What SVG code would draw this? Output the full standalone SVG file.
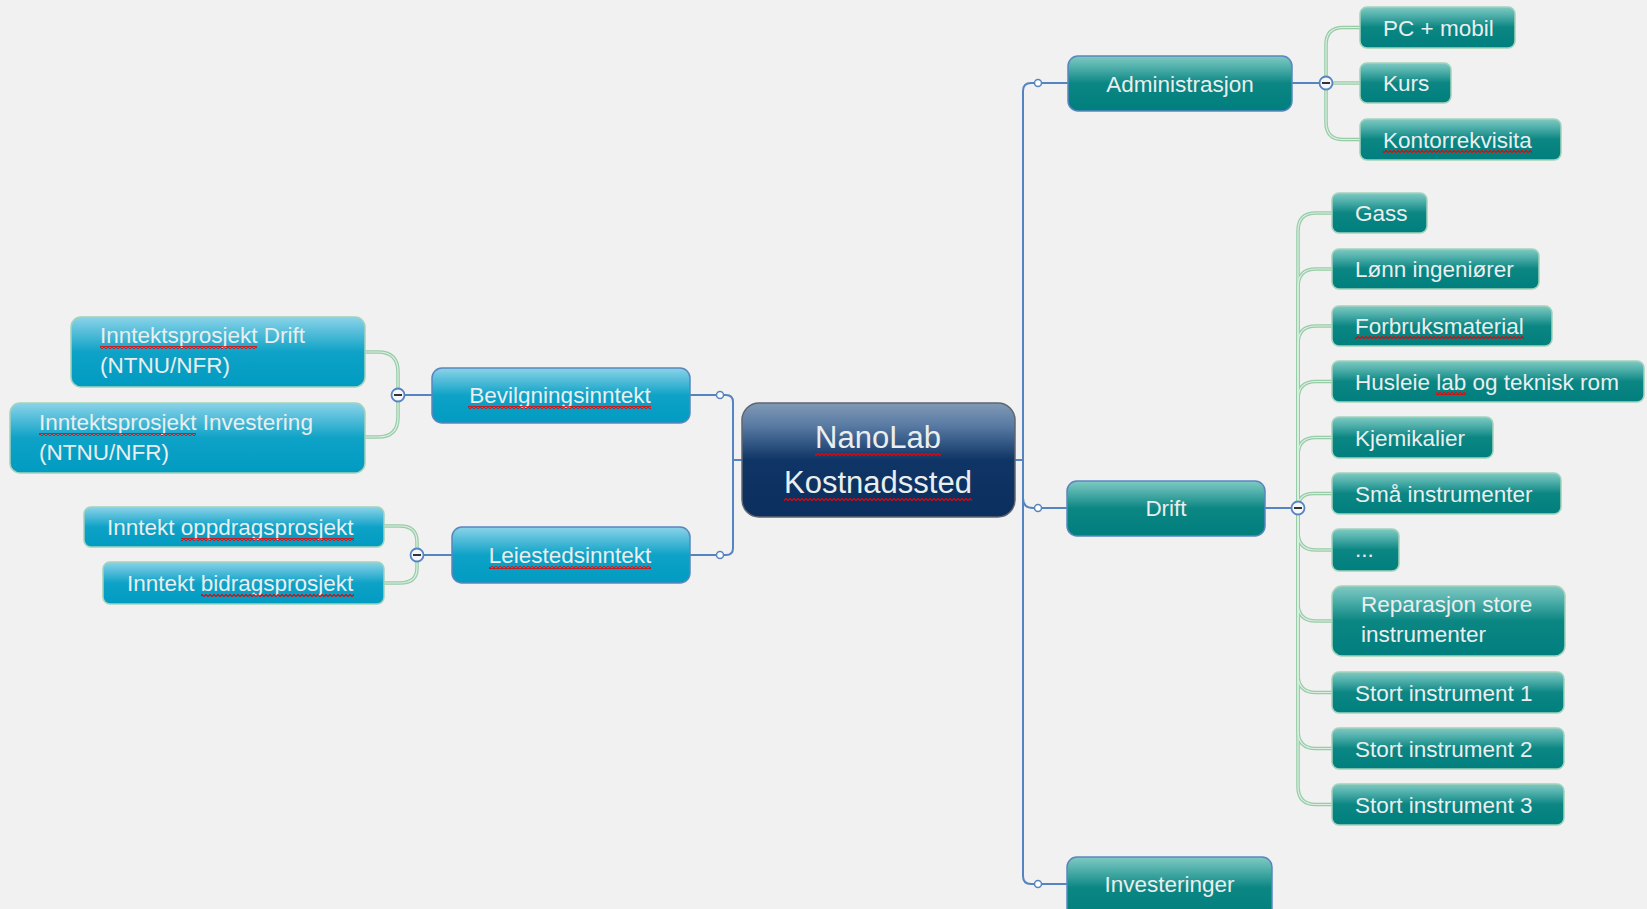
<svg xmlns="http://www.w3.org/2000/svg" xmlns:xlink="http://www.w3.org/1999/xlink" width="1647" height="909" viewBox="0 0 1647 909">
<style>
.t{font-family:"Liberation Sans",Arial,sans-serif;font-size:22.5px;fill:#eaeeee}
.tc{font-family:"Liberation Sans",Arial,sans-serif;font-size:31px;fill:#eaeeee;text-anchor:middle}
.m{text-anchor:middle}
.teal{fill:url(#gTeal);stroke:#a3d2bb;stroke-width:1.5}
.tealM{fill:url(#gTeal);stroke:#5a86bf;stroke-width:1.5}
.cyan{fill:url(#gCyan);stroke:#a3d2bb;stroke-width:1.5}
.cyanM{fill:url(#gCyan);stroke:#5a86bf;stroke-width:1.5}
.blue{fill:none;stroke:#5584c0;stroke-width:2}
.gOut{fill:none;stroke:#98cca8;stroke-width:3.6}
.gIn{fill:none;stroke:#dcf0e2;stroke-width:1.2}
.dot{fill:#fff;stroke:#5584c0;stroke-width:1.5}
.col{fill:#f4f6fa;stroke:#5584c0;stroke-width:1.8}
.minus{stroke:#333;stroke-width:2}
.wv{fill:url(#wavy)}
</style>
<defs>
<linearGradient id="gTeal" x1="0" y1="0" x2="0" y2="1">
<stop offset="0" stop-color="#80c9c3"/>
<stop offset="0.18" stop-color="#56b3ae"/>
<stop offset="0.5" stop-color="#0b8683"/>
<stop offset="1" stop-color="#007f7e"/>
</linearGradient>
<linearGradient id="gCyan" x1="0" y1="0" x2="0" y2="1">
<stop offset="0" stop-color="#8ad4e8"/>
<stop offset="0.18" stop-color="#5ec1dc"/>
<stop offset="0.5" stop-color="#0ea2c7"/>
<stop offset="1" stop-color="#019bc1"/>
</linearGradient>
<linearGradient id="gNavy" x1="0" y1="0" x2="0" y2="1">
<stop offset="0" stop-color="#8199b6"/>
<stop offset="0.2" stop-color="#587aa3"/>
<stop offset="0.5" stop-color="#0f3566"/>
<stop offset="1" stop-color="#0b2f5e"/>
</linearGradient>
<pattern id="wavy" width="4" height="3" patternUnits="userSpaceOnUse">
<path d="M-1,2.5 L0,2.5 L2,0.5 L4,2.5 L5,2.5" fill="none" stroke="#f00000" stroke-width="1.2"/>
</pattern>
<g id="greenPaths">
<path d="M398,395 V372 Q398,352 378,352 H365"/>
<path d="M398,395 V417 Q398,437 378,437 H365"/>
<path d="M417,555 V542 Q417,526 400,526 H384"/>
<path d="M417,555 V568 Q417,583 400,583 H384"/>
<path d="M1326,83 V45 Q1326,27.5 1343,27.5 H1360"/>
<path d="M1326,83 H1360"/>
<path d="M1326,83 V122 Q1326,139.5 1343,139.5 H1360"/>
<path d="M1298,508 V231 Q1298,213 1316,213 H1332"/>
<path d="M1298,508 V287 Q1298,269 1316,269 H1332"/>
<path d="M1298,508 V344 Q1298,326 1316,326 H1332"/>
<path d="M1298,508 V399.5 Q1298,381.5 1316,381.5 H1332"/>
<path d="M1298,508 V455.5 Q1298,437.5 1316,437.5 H1332"/>
<path d="M1298,508 Q1298,493.5 1314,493.5 H1332"/>
<path d="M1298,508 V532 Q1298,550 1316,550 H1332"/>
<path d="M1298,508 V603 Q1298,621 1316,621 H1332"/>
<path d="M1298,508 V674.5 Q1298,692.5 1316,692.5 H1332"/>
<path d="M1298,508 V730.5 Q1298,748.5 1316,748.5 H1332"/>
<path d="M1298,508 V786.5 Q1298,804.5 1316,804.5 H1332"/>
</g>
</defs>
<rect x="0" y="0" width="1647" height="909" fill="#f1f1f1"/>

<g id="connectors">
<use xlink:href="#greenPaths" class="gOut"/>
<use xlink:href="#greenPaths" class="gIn"/>
<path class="blue" d="M742,460 H733"/>
<path class="blue" d="M720,395 H726 Q733,395 733,402 V548 Q733,555 726,555 H720"/>
<path class="blue" d="M690,395 H720"/>
<path class="blue" d="M690,555 H720"/>
<path class="blue" d="M432,395 H398"/>
<path class="blue" d="M452,555 H417"/>
<path class="blue" d="M1015,460 H1023"/>
<path class="blue" d="M1038,83 H1031 Q1023,83 1023,91 V876 Q1023,884 1031,884 H1038"/>
<path class="blue" d="M1023,498 Q1023,508 1033,508 H1038"/>
<path class="blue" d="M1038,83 H1068"/>
<path class="blue" d="M1038,508 H1067"/>
<path class="blue" d="M1038,884 H1067"/>
<path class="blue" d="M1292,83 H1326"/>
<path class="blue" d="M1265,508 H1298"/>
<circle class="dot" cx="720" cy="395" r="3.5"/>
<circle class="dot" cx="720" cy="555" r="3.5"/>
<circle class="dot" cx="1038" cy="83" r="3.5"/>
<circle class="dot" cx="1038" cy="508" r="3.5"/>
<circle class="dot" cx="1038" cy="884" r="3.5"/>
<circle class="col" cx="398" cy="395" r="6.5"/><path class="minus" d="M394,395 H402"/>
<circle class="col" cx="417" cy="555" r="6.5"/><path class="minus" d="M413,555 H421"/>
<circle class="col" cx="1326" cy="83" r="6.5"/><path class="minus" d="M1322,83 H1330"/>
<circle class="col" cx="1298" cy="508" r="6.5"/><path class="minus" d="M1294,508 H1302"/>
</g>

<g id="n-central">
<rect x="742" y="403" width="273" height="114" rx="17" fill="url(#gNavy)" stroke="#5f6670" stroke-width="1.5"/>
<text class="tc" x="878" y="448">NanoLab</text>
<text class="tc" x="878" y="493">Kostnadssted</text>
<rect class="wv" x="815" y="453" width="126" height="3"/>
<rect class="wv" x="784" y="498" width="188" height="3"/>
</g>

<g id="n-bevilgning">
<rect class="cyanM" x="432" y="368" width="258" height="55" rx="10"/>
<text class="t m" x="560" y="403">Bevilgningsinntekt</text>
<rect class="wv" x="468" y="406" width="183" height="3"/>
</g>
<g id="n-inntekt-drift">
<rect class="cyan" x="71" y="317" width="294" height="70" rx="10"/>
<text class="t" x="100" y="343">Inntektsprosjekt Drift</text>
<text class="t" x="100" y="373">(NTNU/NFR)</text>
<rect class="wv" x="100" y="346" width="157" height="3"/>
</g>
<g id="n-inntekt-inv">
<rect class="cyan" x="10" y="403" width="355" height="70" rx="10"/>
<text class="t" x="39" y="430">Inntektsprosjekt Investering</text>
<text class="t" x="39" y="460">(NTNU/NFR)</text>
<rect class="wv" x="39" y="433" width="157" height="3"/>
</g>
<g id="n-leiested">
<rect class="cyanM" x="452" y="527" width="238" height="56" rx="10"/>
<text class="t m" x="570" y="563">Leiestedsinntekt</text>
<rect class="wv" x="489" y="566" width="162" height="3"/>
</g>
<g id="n-oppdrag">
<rect class="cyan" x="84" y="507" width="300" height="40" rx="7"/>
<text class="t" x="107" y="535">Inntekt oppdragsprosjekt</text>
<rect class="wv" x="181" y="538" width="173" height="3"/>
</g>
<g id="n-bidrag">
<rect class="cyan" x="103" y="562" width="281" height="42" rx="7"/>
<text class="t" x="127" y="591">Inntekt bidragsprosjekt</text>
<rect class="wv" x="201" y="594" width="153" height="3"/>
</g>

<g id="n-admin">
<rect class="tealM" x="1068" y="56" width="224" height="55" rx="10"/>
<text class="t m" x="1180" y="91.5">Administrasjon</text>
</g>
<g id="n-pc">
<rect class="teal" x="1360" y="7" width="155" height="41" rx="7"/>
<text class="t" x="1383" y="35.5">PC + mobil</text>
</g>
<g id="n-kurs">
<rect class="teal" x="1360" y="63" width="91" height="40" rx="7"/>
<text class="t" x="1383" y="91">Kurs</text>
</g>
<g id="n-kontor">
<rect class="teal" x="1360" y="119" width="201" height="41" rx="7"/>
<text class="t" x="1383" y="147.5">Kontorrekvisita</text>
<rect class="wv" x="1383" y="150" width="149" height="3"/>
</g>

<g id="n-drift">
<rect class="tealM" x="1067" y="481" width="198" height="55" rx="10"/>
<text class="t m" x="1166" y="516">Drift</text>
</g>
<g id="n-gass">
<rect class="teal" x="1332" y="193" width="95" height="40" rx="7"/>
<text class="t" x="1355" y="221">Gass</text>
</g>
<g id="n-lonn">
<rect class="teal" x="1332" y="249" width="207" height="40" rx="7"/>
<text class="t" x="1355" y="277">Lønn ingeniører</text>
</g>
<g id="n-forbruk">
<rect class="teal" x="1332" y="306" width="220" height="40" rx="7"/>
<text class="t" x="1355" y="334">Forbruksmaterial</text>
<rect class="wv" x="1355" y="336" width="169" height="3"/>
</g>
<g id="n-husleie">
<rect class="teal" x="1332" y="361" width="312" height="41" rx="7"/>
<text class="t" x="1355" y="389.5">Husleie lab og teknisk rom</text>
<rect class="wv" x="1436" y="392" width="30" height="3"/>
</g>
<g id="n-kjemi">
<rect class="teal" x="1332" y="417" width="161" height="41" rx="7"/>
<text class="t" x="1355" y="445.5">Kjemikalier</text>
</g>
<g id="n-sma">
<rect class="teal" x="1332" y="473" width="229" height="41" rx="7"/>
<text class="t" x="1355" y="501.5">Små instrumenter</text>
</g>
<g id="n-dots">
<rect class="teal" x="1332" y="529" width="67" height="42" rx="7"/>
<text class="t" x="1355" y="557">...</text>
</g>
<g id="n-reparasjon">
<rect class="teal" x="1332" y="586" width="233" height="70" rx="10"/>
<text class="t" x="1361" y="612">Reparasjon store</text>
<text class="t" x="1361" y="642">instrumenter</text>
</g>
<g id="n-stort1">
<rect class="teal" x="1332" y="672" width="232" height="41" rx="7"/>
<text class="t" x="1355" y="700.5">Stort instrument 1</text>
</g>
<g id="n-stort2">
<rect class="teal" x="1332" y="728" width="232" height="41" rx="7"/>
<text class="t" x="1355" y="756.5">Stort instrument 2</text>
</g>
<g id="n-stort3">
<rect class="teal" x="1332" y="784" width="232" height="41" rx="7"/>
<text class="t" x="1355" y="812.5">Stort instrument 3</text>
</g>

<g id="n-invest">
<rect class="tealM" x="1067" y="857" width="205" height="62" rx="10"/>
<text class="t m" x="1169.5" y="892">Investeringer</text>
</g>
</svg>
